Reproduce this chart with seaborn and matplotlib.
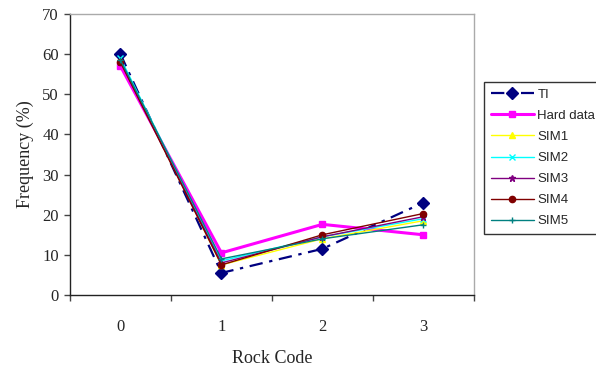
import matplotlib
matplotlib.use("Agg")
import matplotlib.pyplot as plt
import seaborn as sns
import pandas as pd
from matplotlib.ticker import FixedLocator, NullFormatter

sns.set_style("ticks")
plt.rcParams["font.family"] = ["Liberation Serif", "DejaVu Serif"]

# Rock code categories and frequency (%) per series
rock_codes = [0, 1, 2, 3]
ti = [60.0, 5.5, 11.5, 23.0]
hard_data = [57.0, 10.5, 17.6, 15.0]
sim1 = [58.5, 7.5, 14.0, 18.5]
sim2 = [59.0, 8.5, 14.5, 19.0]
sim3 = [58.0, 8.0, 14.5, 19.5]
sim4 = [58.0, 7.5, 15.0, 20.3]
sim5 = [58.5, 9.0, 14.0, 17.5]

series_names = ["TI", "Hard data", "SIM1", "SIM2", "SIM3", "SIM4", "SIM5"]
series_values = [ti, hard_data, sim1, sim2, sim3, sim4, sim5]

styles = {
    "TI":        dict(color="#000080", lw=1.6, ls=(0, (6, 3, 1.5, 3)), marker="D", ms=6.5),
    "Hard data": dict(color="#FF00FF", lw=2.2, ls="-", marker="s", ms=5),
    "SIM1":      dict(color="#FFFF00", lw=1.0, ls="-", marker="^", ms=4.5),
    "SIM2":      dict(color="#00FFFF", lw=1.0, ls="-", marker="x", ms=4),
    "SIM3":      dict(color="#800080", lw=1.0, ls="-", marker="*", ms=4.5),
    "SIM4":      dict(color="#800000", lw=1.0, ls="-", marker="o", ms=4.5),
    "SIM5":      dict(color="#008080", lw=1.0, ls="-", marker="+", ms=5),
}

df = pd.DataFrame(
    [(name, x, v) for name, vals in zip(series_names, series_values)
     for x, v in zip(rock_codes, vals)],
    columns=["series", "rock", "freq"],
)

fig = plt.figure(figsize=(5.96, 3.75), dpi=100)
ax = fig.add_axes([0.1174, 0.2133, 0.795 - 0.1174, 0.9627 - 0.2133])

handles = []
for name in series_names:
    st = styles[name]
    sub = df[df["series"] == name]
    sns.lineplot(data=sub, x="rock", y="freq", ax=ax, color=st["color"],
                 linewidth=st["lw"], linestyle=st["ls"], marker=st["marker"],
                 markersize=st["ms"], markeredgecolor=st["color"],
                 markerfacecolor=st["color"], markeredgewidth=1.0,
                 label=name, legend=False, errorbar=None)
    handles.append(ax.lines[-1])

ax.set_xlim(-0.5, 3.5)
ax.set_ylim(0, 70)
ax.set_yticks(range(0, 71, 10))
ax.set_xticks(rock_codes)
ax.xaxis.set_minor_locator(FixedLocator([-0.5, 0.5, 1.5, 2.5, 3.5]))
ax.xaxis.set_minor_formatter(NullFormatter())
ax.tick_params(axis="x", which="major", length=0, labelsize=12, pad=17)
ax.tick_params(axis="x", which="minor", length=4, width=1, color="#444444")
ax.tick_params(axis="y", which="major", length=4, width=1, labelsize=12, pad=4,
               color="#444444")

for side in ["left", "bottom"]:
    ax.spines[side].set_color("#222222")
    ax.spines[side].set_linewidth(1.0)
for side in ["top", "right"]:
    ax.spines[side].set_visible(True)
    ax.spines[side].set_color("#aaaaaa")
    ax.spines[side].set_linewidth(1.0)

ax.set_xlabel("Rock Code", fontsize=13, labelpad=11)
ax.set_ylabel("Frequency (%)", fontsize=13, labelpad=6)

leg = fig.legend(handles=handles, labels=series_names, loc="upper left",
                 bbox_to_anchor=(0.812, 0.781), frameon=True, fancybox=False,
                 prop={"family": "Liberation Sans", "size": 9.5},
                 handlelength=3.3, handletextpad=0.25, labelspacing=0.67,
                 borderpad=0.5, borderaxespad=0)
leg.get_frame().set_edgecolor("black")
leg.get_frame().set_linewidth(1.0)

fig.savefig("out.png", dpi=100)
